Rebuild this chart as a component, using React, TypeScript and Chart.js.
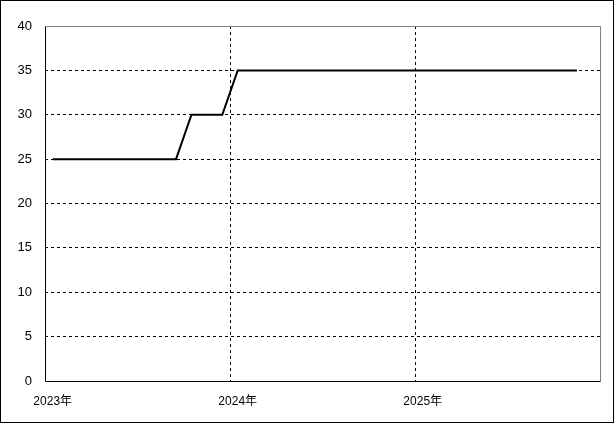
import React, { useEffect, useRef } from "react";
import { Chart, registerables } from "chart.js";

Chart.register(...registerables);

// Monthly categories Jan 2023 .. Dec 2025
const years = [2023, 2024, 2025];
const months = years.flatMap((y) => Array.from({ length: 12 }, (_, m) => `${y}-${String(m + 1).padStart(2, "0")}`));
// Values per month (Jan 2023 .. Nov 2025)
const values = [
  25, 25, 25, 25, 25, 25, 25, 25, 25,
  30, 30, 30,
  35, 35, 35, 35, 35, 35, 35, 35, 35, 35, 35, 35,
  35, 35, 35, 35, 35, 35, 35, 35, 35, 35, 35,
];
const yMin = 0;
const yMax = 40;
const yStep = 5;

const FONT = "'Liberation Sans', Arial, 'Noto Sans CJK JP', sans-serif";

const framePlugin = {
  id: "frame",
  beforeDatasetsDraw(chart: any) {
    const { ctx, chartArea } = chart;
    const l = Math.round(chartArea.left) + 0.5;
    const r = Math.round(chartArea.right) + 0.5;
    const t = Math.round(chartArea.top) + 0.5;
    const b = Math.round(chartArea.bottom) + 0.5;
    ctx.save();
    ctx.lineWidth = 1;
    ctx.setLineDash([]);
    ctx.strokeStyle = "#808080";
    ctx.beginPath();
    ctx.moveTo(l, t);
    ctx.lineTo(r, t);
    ctx.lineTo(r, b);
    ctx.stroke();
    ctx.strokeStyle = "#000000";
    ctx.beginPath();
    ctx.moveTo(l, t);
    ctx.lineTo(l, b);
    ctx.lineTo(r, b);
    ctx.stroke();
    ctx.restore();
  },
};

export default function App() {
  const ref = useRef<HTMLCanvasElement | null>(null);
  useEffect(() => {
    document.body.style.margin = "0";
    const chart = new Chart(ref.current!, {
      type: "line",
      data: {
        labels: months,
        datasets: [
          {
            data: values,
            borderColor: "#000000",
            borderWidth: 2,
            pointRadius: 0,
            tension: 0,
            fill: false,
          },
        ],
      },
      plugins: [framePlugin],
      options: {
        animation: false,
        responsive: true,
        maintainAspectRatio: false,
        layout: { padding: { top: 25, right: 13, left: 0, bottom: 0 } },
        plugins: { legend: { display: false }, tooltip: { enabled: false } },
        scales: {
          x: {
            type: "category",
            offset: true,
            afterFit: (s: any) => {
              s.height = 41;
            },
            border: { display: false, dash: [3, 3] },
            grid: {
              offset: true,
              drawTicks: false,
              lineWidth: 1,
              color: (c: any) => (c.index === 12 || c.index === 24 ? "#000000" : "rgba(0,0,0,0)"),
            },
            ticks: {
              autoSkip: false,
              maxRotation: 0,
              minRotation: 0,
              padding: 13,
              color: "#000000",
              font: { family: FONT, size: 12 },
              callback: (_v: any, i: number) => (i % 12 === 0 ? `${months[i].slice(0, 4)}年` : ""),
            },
          },
          y: {
            min: yMin,
            max: yMax,
            afterFit: (s: any) => {
              s.width = 44;
            },
            border: { display: false, dash: [3, 3] },
            grid: {
              drawTicks: false,
              lineWidth: 1,
              color: (c: any) =>
                c.tick && (c.tick.value === yMin || c.tick.value === yMax) ? "rgba(0,0,0,0)" : "#000000",
            },
            ticks: {
              stepSize: yStep,
              padding: 13,
              color: "#000000",
              font: { family: FONT, size: 13 },
            },
          },
        },
      },
    });
    return () => chart.destroy();
  }, []);
  return (
    <div
      style={{
        position: "absolute",
        left: 0,
        top: 0,
        width: 614,
        height: 423,
        border: "1px solid #000",
        boxSizing: "border-box",
        background: "#fff",
      }}
    >
      <canvas ref={ref} />
    </div>
  );
}
